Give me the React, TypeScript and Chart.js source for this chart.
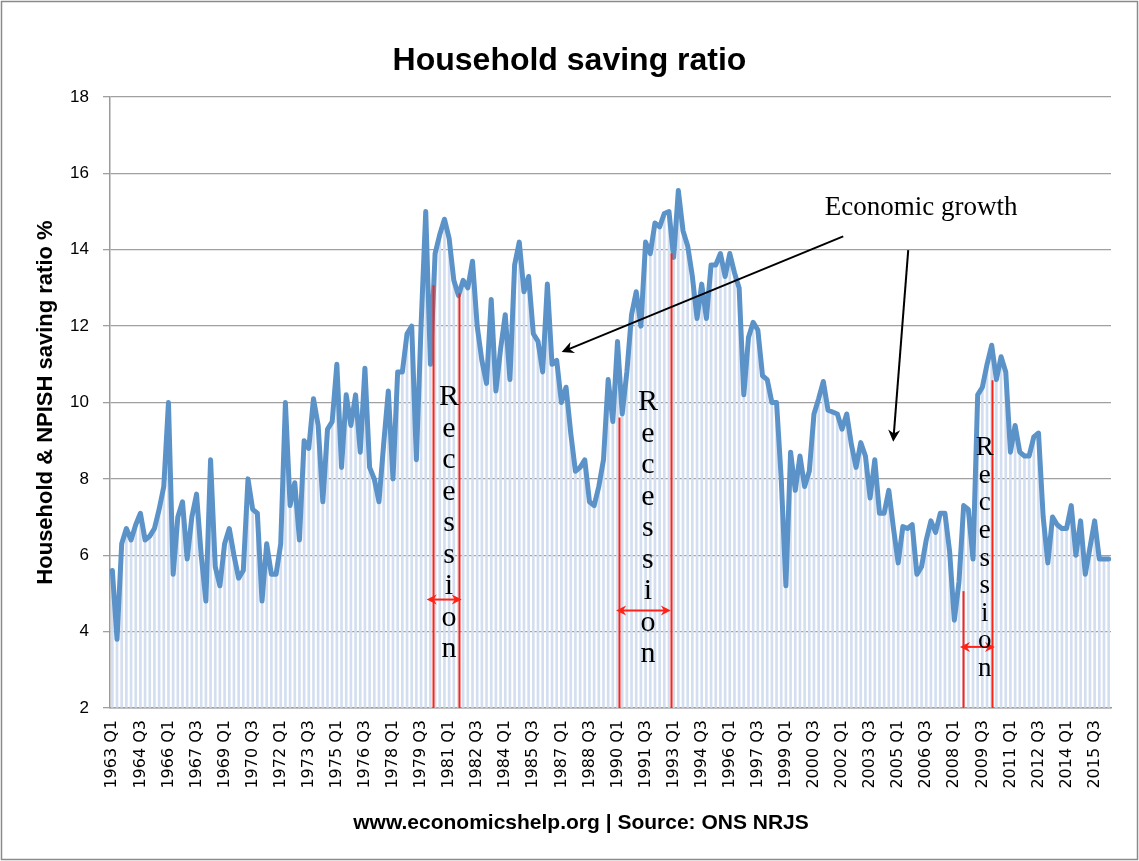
import React, { useEffect, useRef } from 'react';
import { Chart, registerables } from 'chart.js';

Chart.register(...registerables);

// ---------- data ----------
const START_YEAR = 1963;
const savingRatio: number[] = [
  5.6, 3.8, 6.3, 6.7, 6.4, 6.8, 7.1, 6.4, 6.5, 6.7, 7.2, 7.8, 10.0, 5.5, 7.0, 7.4, 5.9, 7.0, 7.6, 6.0,
  4.8, 8.5, 5.7, 5.2, 6.3, 6.7, 6.0, 5.4, 5.6, 8.0, 7.2, 7.1, 4.8, 6.3, 5.5, 5.5, 6.3, 10.0, 7.3, 7.9,
  6.4, 9.0, 8.8, 10.1, 9.4, 7.4, 9.3, 9.5, 11.0, 8.3, 10.2, 9.4, 10.2, 8.7, 10.9, 8.3, 8.0, 7.4, 8.9, 10.3,
  8.0, 10.8, 10.8, 11.8, 12.0, 8.5, 12.0, 15.0, 11.0, 13.9, 14.4, 14.8, 14.3, 13.2, 12.8, 13.2, 13.0, 13.7, 12.0, 11.1,
  10.5, 12.7, 10.3, 11.4, 12.3, 10.6, 13.6, 14.2, 12.9, 13.3, 11.8, 11.6, 10.8, 13.1, 11.0, 11.1, 10.0, 10.4, 9.2, 8.2,
  8.3, 8.5, 7.4, 7.3, 7.8, 8.5, 10.6, 9.5, 11.6, 9.7, 10.8, 12.3, 12.9, 12.0, 14.2, 13.9, 14.7, 14.6, 14.95, 15.0,
  13.8, 15.55, 14.5, 14.1, 13.3, 12.2, 13.1, 12.2, 13.6, 13.6, 13.9, 13.3, 13.9, 13.4, 13.0, 10.2, 11.7, 12.1, 11.9, 10.7,
  10.6, 10.0, 10.0, 8.0, 5.2, 8.7, 7.7, 8.6, 7.8, 8.2, 9.7, 10.1, 10.55, 9.8, 9.75, 9.7, 9.3, 9.7, 8.9, 8.3,
  8.95, 8.6, 7.5, 8.5, 7.1, 7.1, 7.7, 6.7, 5.8, 6.75, 6.7, 6.8, 5.5, 5.7, 6.4, 6.9, 6.6, 7.1, 7.1, 6.1,
  4.3, 5.3, 7.3, 7.2, 5.9, 10.2, 10.4, 11.0, 11.5, 10.6, 11.2, 10.8, 8.7, 9.4, 8.7, 8.6, 8.6, 9.1, 9.2, 7.0,
  5.8, 7.0, 6.8, 6.7, 6.7, 7.3, 6.0, 6.9, 5.5, 6.2, 6.9, 5.9, 5.9, 5.9,
];
const quarters: string[] = savingRatio.map(
  (_, i) => `${START_YEAR + Math.floor(i / 4)} Q${(i % 4) + 1}`
);
const LABEL_EVERY = 6;
const Y_MIN = 2;
const Y_MAX = 18;
const Y_STEP = 2;

const TITLE = 'Household saving ratio';
const Y_TITLE = 'Household & NPISH saving ratio %';
const FOOTER = 'www.economicshelp.org | Source: ONS NRJS';

// annotations, in data coordinates (category index, value)
const recessionLines = [
  { x: 68.6, top: 13.07 },
  { x: 74.1, top: 12.86 },
  { x: 108.3, top: 9.61 },
  { x: 119.4, top: 13.9 },
  { x: 181.8, top: 5.06 },
  { x: 188.0, top: 10.58 },
];
const recessionArrows = [
  { from: 67.2, to: 74.7, y: 4.84 },
  { from: 107.7, to: 119.4, y: 4.55 },
  { from: 181.2, to: 188.7, y: 3.6 },
];
const recessionLabels = [
  { x: 71.97, y: 9.93 },
  { x: 114.5, y: 9.8 },
  { x: 186.5, y: 8.62 },
];
const RECESSION_WORD = 'Recession';
const growthLabel = { x: 152.3, y: 14.9, text: 'Economic growth' };
const growthArrows = [
  { x1: 156.25, y1: 14.35, x2: 96.06, y2: 11.32 },
  { x1: 170.15, y1: 13.99, x2: 166.94, y2: 8.97 },
];

// ---------- drawing helpers ----------
function stealthHead(ctx: CanvasRenderingContext2D, tx: number, ty: number, angle: number, len: number, half: number) {
  ctx.save();
  ctx.translate(tx, ty);
  ctx.rotate(angle);
  ctx.beginPath();
  ctx.moveTo(0, 0);
  ctx.lineTo(-len, -half);
  ctx.lineTo(-len * 0.7, 0);
  ctx.lineTo(-len, half);
  ctx.closePath();
  ctx.fill();
  ctx.restore();
}

const pagePlugin = {
  id: 'pageFrame',
  beforeDraw(chart: any) {
    const { ctx, width, height } = chart;
    ctx.save();
    ctx.fillStyle = '#ffffff';
    ctx.fillRect(0, 0, width, height);
    ctx.restore();
  },
  afterDraw(chart: any) {
    const { ctx, width, height } = chart;
    ctx.save();
    ctx.strokeStyle = '#8a8a8a';
    ctx.lineWidth = 1.5;
    ctx.strokeRect(1.5, 1.5, width - 3, height - 3);
    ctx.fillStyle = '#000';
    ctx.textAlign = 'center';
    // title
    ctx.textBaseline = 'alphabetic';
    ctx.font = 'bold 32px "Liberation Sans", Arial, sans-serif';
    ctx.fillText(TITLE, width / 2, 70);
    // footer text
    ctx.textBaseline = 'middle';
    ctx.font = 'bold 21px "Liberation Sans", Arial, sans-serif';
    ctx.fillText(FOOTER, 581, 823);
    ctx.restore();
  },
};

const annotationPlugin = {
  id: 'annotations',
  afterDatasetsDraw(chart: any) {
    const { ctx } = chart;
    const xs = chart.scales.x;
    const ys = chart.scales.y;
    const px = (i: number) => xs.getPixelForValue(i);
    const py = (v: number) => ys.getPixelForValue(v);
    ctx.save();
    // red recession lines
    ctx.strokeStyle = '#ff2216';
    ctx.fillStyle = '#ff2216';
    ctx.lineWidth = 2;
    recessionLines.forEach((l) => {
      const X = Math.round(px(l.x)) + 0.5;
      ctx.beginPath();
      ctx.moveTo(X, py(l.top));
      ctx.lineTo(X, py(Y_MIN));
      ctx.stroke();
    });
    // red double arrows
    recessionArrows.forEach((a) => {
      const x1 = px(a.from);
      const x2 = px(a.to);
      const Y = py(a.y);
      ctx.beginPath();
      ctx.moveTo(x1 + 6, Y);
      ctx.lineTo(x2 - 6, Y);
      ctx.stroke();
      stealthHead(ctx, x1, Y, Math.PI, 10, 5);
      stealthHead(ctx, x2, Y, 0, 10, 5);
    });
    // vertical "Recession" letters
    ctx.fillStyle = '#000';
    ctx.textAlign = 'center';
    ctx.textBaseline = 'alphabetic';
    recessionLabels.forEach((r, k) => {
      const small = k === 2;
      const size = small ? 27 : 30;
      const step = small ? 27.6 : 31.5;
      ctx.font = `${size}px "Liberation Serif", "Times New Roman", serif`;
      const X = px(r.x);
      const Y0 = py(r.y);
      RECESSION_WORD.split('').forEach((ch, j) => {
        ctx.fillText(ch, X, Y0 + j * step);
      });
    });
    // Economic growth text
    ctx.font = '27px "Liberation Serif", "Times New Roman", serif';
    ctx.textAlign = 'left';
    ctx.fillText(growthLabel.text, px(growthLabel.x), py(growthLabel.y));
    // black arrows
    ctx.strokeStyle = '#000';
    ctx.fillStyle = '#000';
    ctx.lineWidth = 2;
    growthArrows.forEach((a) => {
      const X1 = px(a.x1), Y1 = py(a.y1), X2 = px(a.x2), Y2 = py(a.y2);
      const ang = Math.atan2(Y2 - Y1, X2 - X1);
      ctx.beginPath();
      ctx.moveTo(X1, Y1);
      ctx.lineTo(X2 - Math.cos(ang) * 7, Y2 - Math.sin(ang) * 7);
      ctx.stroke();
      stealthHead(ctx, X2, Y2, ang, 12, 6);
    });
    ctx.restore();
  },
};

export default function App() {
  const canvasRef = useRef<HTMLCanvasElement | null>(null);

  useEffect(() => {
    const canvas = canvasRef.current;
    if (!canvas) return;
    const chart = new Chart(canvas, {
      type: 'bar',
      data: {
        labels: quarters,
        datasets: [
          {
            type: 'line',
            label: 'Saving ratio',
            data: savingRatio,
            borderColor: '#5b93c9',
            borderWidth: 5,
            borderJoinStyle: 'round',
            borderCapStyle: 'round',
            pointRadius: 0,
            tension: 0,
            fill: false,
            order: 0,
          } as any,
          {
            type: 'bar',
            label: 'Drop lines',
            data: savingRatio,
            backgroundColor: '#d3dff0',
            barThickness: 2,
            base: Y_MIN,
            order: 1,
          } as any,
        ],
      },
      options: {
        animation: false,
        responsive: true,
        maintainAspectRatio: false,
        layout: { padding: { left: 0, right: 28, top: 97, bottom: 0 } },
        plugins: {
          legend: { display: false },
          tooltip: { enabled: false },
          title: { display: false },
        },
        scales: {
          x: {
            type: 'category',
            offset: true,
            grid: { display: false, drawTicks: false },
            border: { display: true, color: '#9a9a9a', width: 1.5 },
            ticks: {
              autoSkip: false,
              minRotation: 90,
              maxRotation: 90,
              padding: 12,
              color: '#000',
              font: { family: '"DejaVu Sans", Verdana, sans-serif', size: 16 },
              callback: (_v: any, i: number) => (i % LABEL_EVERY === 0 ? quarters[i] : null),
            },
            afterFit: (scale: any) => {
              scale.height = 153;
            },
          },
          y: {
            min: Y_MIN,
            max: Y_MAX,
            ticks: {
              stepSize: Y_STEP,
              padding: 14,
              color: '#000',
              font: { family: '"Liberation Sans", Arial, sans-serif', size: 17 },
            },
            grid: { color: '#a0a0a0', lineWidth: 1.3, tickLength: 7 },
            border: { display: true, color: '#9a9a9a', width: 1.5 },
            title: {
              display: true,
              text: Y_TITLE,
              color: '#000',
              font: { family: '"Liberation Sans", Arial, sans-serif', size: 22, weight: 'bold' },
              padding: { top: 33, bottom: 0 },
            },
            afterFit: (scale: any) => {
              scale.width = 110;
            },
          },
        },
      },
      plugins: [pagePlugin, annotationPlugin],
    });
    return () => chart.destroy();
  }, []);

  return (
    <div style={{ position: 'absolute', left: 0, top: 0, width: 1139, height: 861 }}>
      <canvas ref={canvasRef} />
    </div>
  );
}
